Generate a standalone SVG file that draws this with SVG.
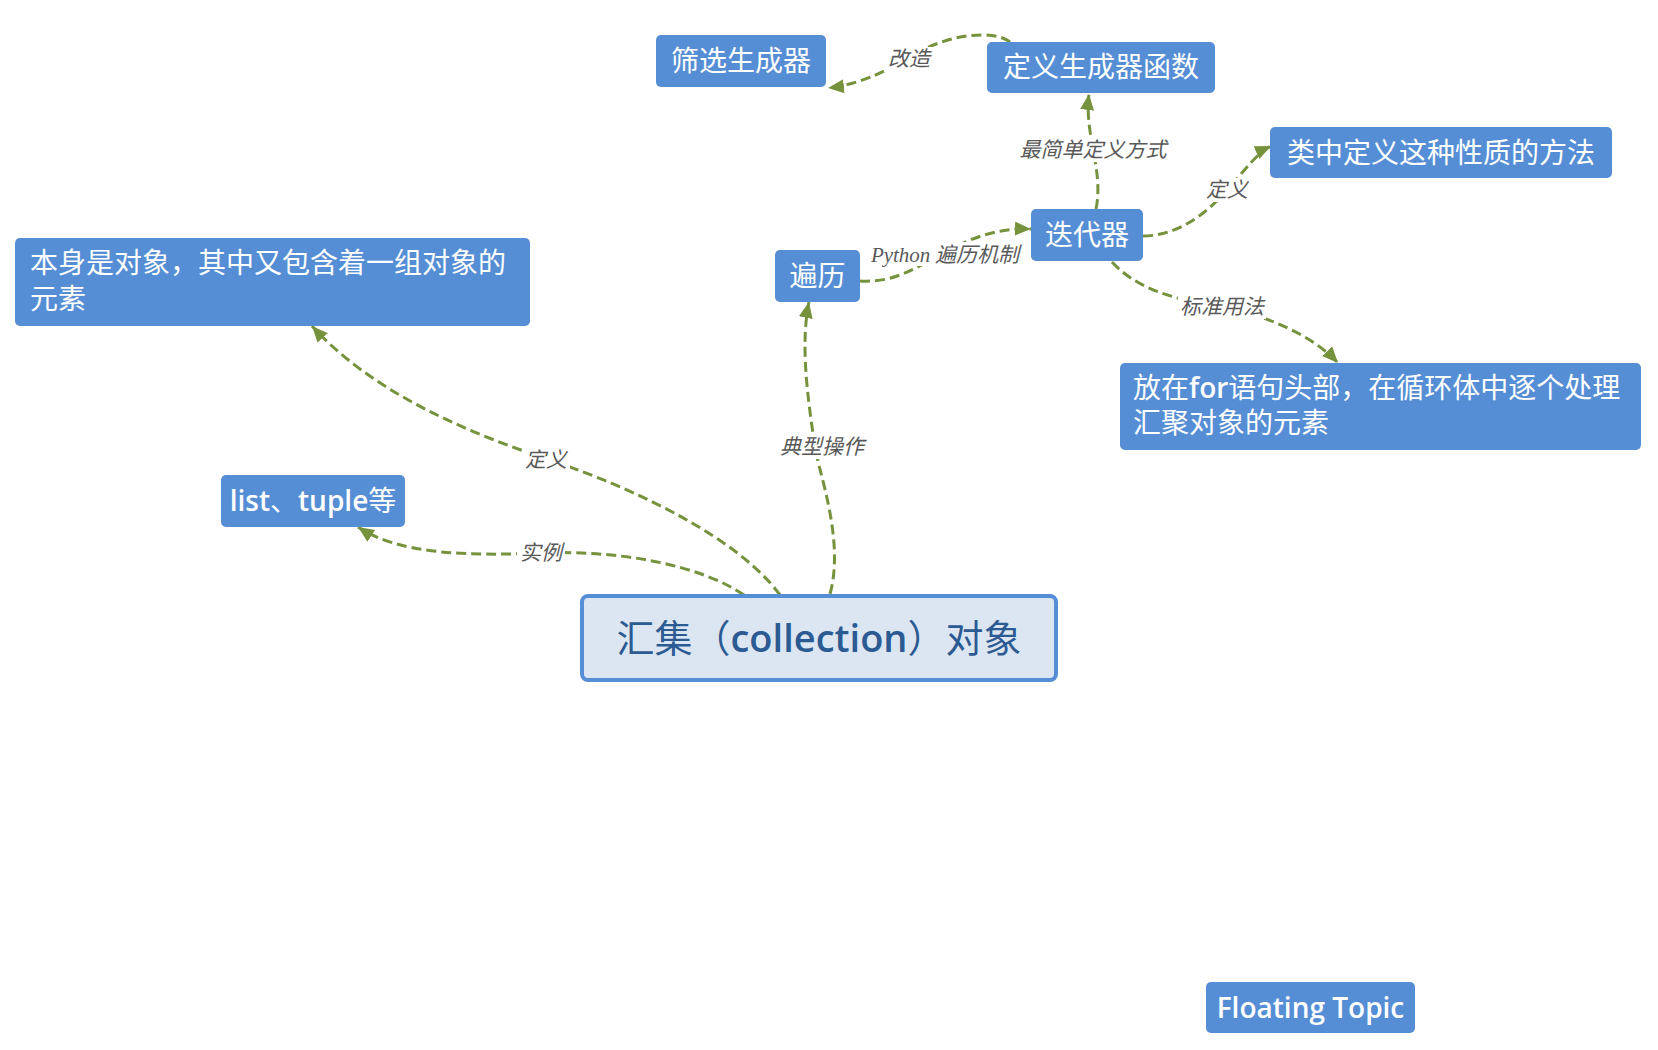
<svg xmlns="http://www.w3.org/2000/svg" width="1658" height="1050" viewBox="0 0 1658 1050">
<style>
.node rect{fill:#558ed5;}
.node text{fill:#ffffff;font-family:"Open Sans","Noto Sans CJK SC",sans-serif;font-size:28px;}
.b{font-weight:600;}
.c{text-anchor:middle;}
.conn path{fill:none;stroke:#76923c;stroke-width:3;stroke-dasharray:10 5;marker-end:url(#arr);}
.lbl rect{fill:#ffffff;}
.lbl text{fill:#595959;font-family:"Noto Sans CJK SC",sans-serif;font-size:21px;font-style:italic;text-anchor:middle;}
</style>
<defs>
<marker id="arr" markerUnits="userSpaceOnUse" markerWidth="18" markerHeight="16" viewBox="0 0 18 16" refX="16" refY="8" orient="auto">
<path d="M0,1 L16,8 L0,15 Z" fill="#76923c"/>
</marker>
</defs>
<rect width="1658" height="1050" fill="#ffffff"/>
<g id="connectors" class="conn">
<path d="M780,595 C740,540 640,490 547,459 C460,430 370,390 312,326"/>
<path d="M744,595 C700,565 620,550 542,553 C470,556 400,555 358,527"/>
<path d="M830,594 C845,540 818,470 815,447 C808,400 800,345 809,302"/>
<path d="M860,281 C895,283 915,268 945,252 C972,238 995,228 1031,229"/>
<path d="M1096,209 C1104,170 1084,135 1089,94"/>
<path d="M1010,42 C995,30 950,32 910,57 C880,75 855,85 828,88"/>
<path d="M1143,236 C1180,236 1210,210 1227,190 C1245,170 1258,152 1271,146"/>
<path d="M1112,262 C1140,292 1180,300 1222,307 C1268,316 1312,335 1338,363"/>
</g>
<g id="labels" class="lbl">
<rect x="522" y="448" width="48" height="24"/><text x="546" y="467">定义</text>
<rect x="517" y="541" width="48" height="24"/><text x="541" y="560">实例</text>
<rect x="778" y="435" width="88" height="24"/><text x="822" y="454">典型操作</text>
<rect x="865" y="242" width="160" height="24"/><text x="945" y="262"><tspan font-family="Liberation Serif,serif">Python</tspan> 遍历机制</text>
<rect x="1016" y="138" width="154" height="24"/><text x="1093" y="157">最简单定义方式</text>
<rect x="885" y="47" width="48" height="24"/><text x="909" y="66">改造</text>
<rect x="1203" y="178" width="48" height="24"/><text x="1227" y="197">定义</text>
<rect x="1178" y="295" width="88" height="24"/><text x="1222" y="314">标准用法</text>
</g>
<g id="central">
<rect x="582" y="596" width="474" height="84" rx="6" fill="#dce6f2" stroke="#558ed5" stroke-width="4"/>
<text x="819" y="652" text-anchor="middle" fill="#2c5a93" font-family="Open Sans,Noto Sans CJK SC,sans-serif" font-size="38">汇集（<tspan font-weight="600">collection</tspan>）对象</text>
</g>
<g id="n-shaixuan" class="node"><rect x="656" y="35" width="170" height="52" rx="5"/><text class="c" x="741" y="71">筛选生成器</text></g>
<g id="n-dingyi" class="node"><rect x="987" y="42" width="228" height="51" rx="5"/><text class="c" x="1101" y="77">定义生成器函数</text></g>
<g id="n-diedaiqi" class="node"><rect x="1031" y="209" width="112" height="52" rx="5"/><text class="c" x="1087" y="245">迭代器</text></g>
<g id="n-bianli" class="node"><rect x="775" y="250" width="85" height="52" rx="5"/><text class="c" x="817.5" y="286">遍历</text></g>
<g id="n-leizhong" class="node"><rect x="1270" y="127" width="342" height="51" rx="5"/><text class="c" x="1441" y="163">类中定义这种性质的方法</text></g>
<g id="n-fangzai" class="node"><rect x="1120" y="363" width="521" height="87" rx="5"/><text x="1133" y="398">放在<tspan class="b">for</tspan>语句头部，在循环体中逐个处理</text><text x="1133" y="433">汇聚对象的元素</text></g>
<g id="n-benshen" class="node"><rect x="15" y="238" width="515" height="88" rx="5"/><text x="30" y="273">本身是对象，其中又包含着一组对象的</text><text x="30" y="309">元素</text></g>
<g id="n-list" class="node"><rect x="221" y="475" width="184" height="52" rx="5"/><text class="c" x="313" y="511"><tspan class="b">list</tspan>、<tspan class="b">tuple</tspan>等</text></g>
<g id="n-floating" class="node"><rect x="1206" y="982" width="209" height="51" rx="5"/><text class="c b" x="1310.5" y="1018">Floating Topic</text></g>
</svg>
